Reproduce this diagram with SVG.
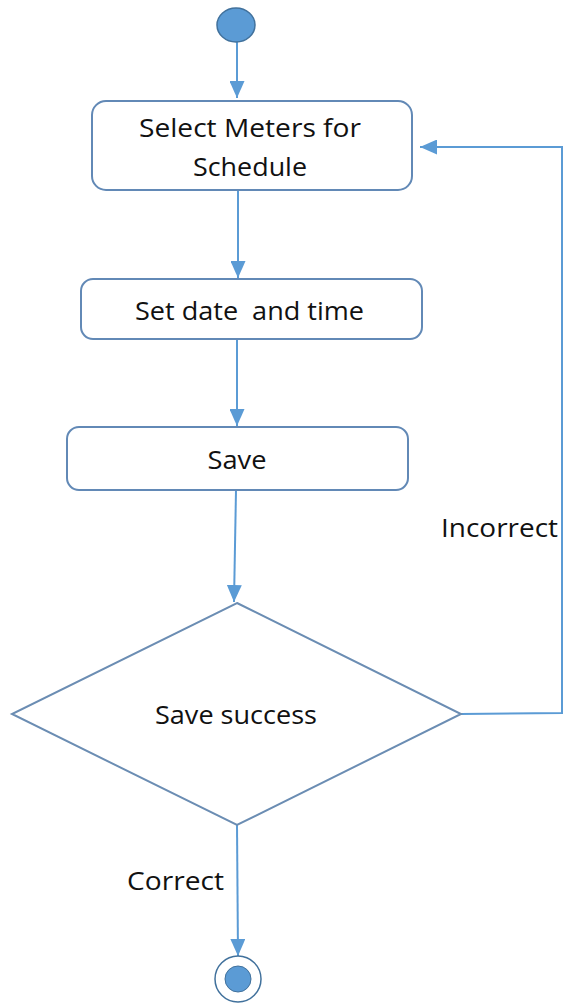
<svg xmlns="http://www.w3.org/2000/svg" width="564" height="1006" viewBox="0 0 564 1006">
<style>
.box{fill:#fff;stroke:#6289B6;stroke-width:2}
.dia{fill:#fff;stroke:#6B8DB3;stroke-width:2}
.edge{fill:none;stroke:#5B9BD5;stroke-width:2}
.t{font-family:"Open Sans","Liberation Sans",sans-serif;font-size:25px;fill:#111;text-anchor:middle}
.l{font-family:"Open Sans","Liberation Sans",sans-serif;font-size:25px;fill:#111}
</style>
<defs>
<marker id="arr" viewBox="0 0 17 15" refX="17" refY="7.5" markerWidth="17" markerHeight="15" markerUnits="userSpaceOnUse" orient="auto">
<path d="M0,0 L17,7.5 L0,15 z" fill="#5B9BD5"/>
</marker>
</defs>
<g id="connectors">
<line class="edge" x1="237" y1="42" x2="237" y2="98" marker-end="url(#arr)"/>
<line class="edge" x1="238" y1="191" x2="238" y2="278" marker-end="url(#arr)"/>
<line class="edge" x1="237" y1="339" x2="237" y2="426" marker-end="url(#arr)"/>
<line class="edge" x1="236" y1="490" x2="234" y2="602" marker-end="url(#arr)"/>
<polyline class="edge" points="461,714 562,713 562,147 420,147" marker-end="url(#arr)"/>
<line class="edge" x1="237" y1="825" x2="238" y2="956" marker-end="url(#arr)"/>
<text class="l" x="441" y="537" textLength="117" lengthAdjust="spacingAndGlyphs">Incorrect</text>
<text class="l" x="127" y="890" textLength="97" lengthAdjust="spacingAndGlyphs">Correct</text>
</g>
<g id="start">
<ellipse cx="236" cy="25" rx="19" ry="17" fill="#5B9BD5" stroke="#41719C" stroke-width="1.5"/>
</g>
<g id="select">
<rect class="box" x="92" y="101" width="320" height="89" rx="14"/>
<text class="t" x="250" y="137" textLength="222" lengthAdjust="spacingAndGlyphs">Select Meters for</text>
<text class="t" x="250" y="176" textLength="114" lengthAdjust="spacingAndGlyphs">Schedule</text>
</g>
<g id="setdate">
<rect class="box" x="81" y="279" width="341" height="60" rx="12"/>
<text class="l" x="135" y="320" textLength="229" lengthAdjust="spacingAndGlyphs" xml:space="preserve">Set date  and time</text>
</g>
<g id="save">
<rect class="box" x="67" y="427" width="341" height="63" rx="12"/>
<text class="t" x="237" y="469" textLength="59" lengthAdjust="spacingAndGlyphs">Save</text>
</g>
<g id="decision">
<polygon class="dia" points="237,603 461,714 237,825 12,714"/>
<text class="t" x="236" y="724" textLength="162" lengthAdjust="spacingAndGlyphs">Save success</text>
</g>
<g id="end">
<circle cx="238" cy="979" r="23" fill="#fff" stroke="#41719C" stroke-width="1.5"/>
<circle cx="238" cy="979" r="13" fill="#5B9BD5" stroke="#41719C" stroke-width="1"/>
</g>
</svg>
